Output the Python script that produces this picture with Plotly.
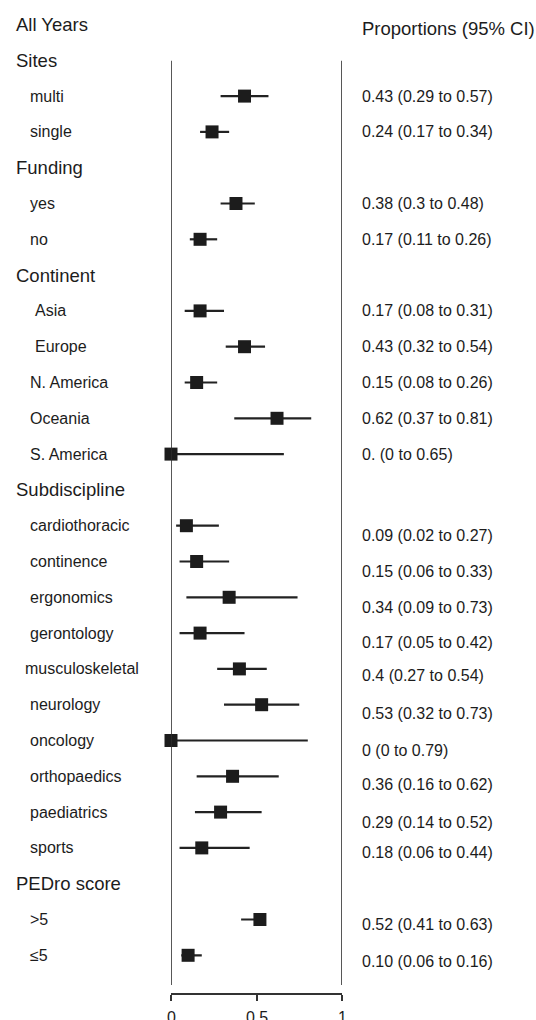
import plotly.graph_objects as go

# ---------------- data ----------------
row_labels = ["All Years", "Sites", "multi", "single", "Funding", "yes", "no",
              "Continent", "Asia", "Europe", "N. America", "Oceania", "S. America",
              "Subdiscipline", "cardiothoracic", "continence", "ergonomics",
              "gerontology", "musculoskeletal", "neurology", "oncology",
              "orthopaedics", "paediatrics", "sports", "PEDro score", ">5", "≤5"]
row_kind = ["title", "header", "item", "item", "header", "item", "item",
            "header", "item", "item", "item", "item", "item",
            "header", "item", "item", "item", "item", "item", "item", "item",
            "item", "item", "item", "header", "item", "item"]
estimate = [None, None, 0.43, 0.24, None, 0.38, 0.17,
            None, 0.17, 0.43, 0.15, 0.62, 0.0,
            None, 0.09, 0.15, 0.34, 0.17, 0.40, 0.53, 0.0,
            0.36, 0.29, 0.18, None, 0.52, 0.10]
ci_lower = [None, None, 0.29, 0.17, None, 0.29, 0.11,
            None, 0.08, 0.32, 0.08, 0.37, 0.0,
            None, 0.03, 0.05, 0.09, 0.05, 0.27, 0.31, 0.0,
            0.15, 0.14, 0.05, None, 0.41, 0.06]
ci_upper = [None, None, 0.57, 0.34, None, 0.49, 0.27,
            None, 0.31, 0.55, 0.27, 0.82, 0.66,
            None, 0.28, 0.34, 0.74, 0.43, 0.56, 0.75, 0.80,
            0.63, 0.53, 0.46, None, 0.55, 0.18]
ci_text = ["", "", "0.43 (0.29 to 0.57)", "0.24 (0.17 to 0.34)", "",
           "0.38 (0.3 to 0.48)", "0.17 (0.11 to 0.26)", "",
           "0.17 (0.08 to 0.31)", "0.43 (0.32 to 0.54)", "0.15 (0.08 to 0.26)",
           "0.62 (0.37 to 0.81)", "0. (0 to 0.65)", "",
           "0.09 (0.02 to 0.27)", "0.15 (0.06 to 0.33)", "0.34 (0.09 to 0.73)",
           "0.17 (0.05 to 0.42)", "0.4 (0.27 to 0.54)", "0.53 (0.32 to 0.73)",
           "0 (0 to 0.79)", "0.36 (0.16 to 0.62)", "0.29 (0.14 to 0.52)",
           "0.18 (0.06 to 0.44)", "", "0.52 (0.41 to 0.63)", "0.10 (0.06 to 0.16)"]
ci_header = "Proportions (95% CI)"
x_ticks = [0, 0.5, 1]
x_tick_labels = ["0", "0.5", "1"]

# ---------------- styling ----------------
label_x_px = [13.5, 13.5, 27.5, 27.5, 13.5, 27.5, 27.5,
              13.5, 32.5, 32.5, 27.5, 27.5, 27.5,
              13.5, 27.5, 27.5, 27.5, 27.5, 22.5, 27.5, 27.5,
              27.5, 27.5, 27.5, 13.5, 27.5, 27.5]
value_shift_px = [0, 0, 0, 0, 0, 0, 0,
                  0, 0, 0, 0, 0, 0,
                  0, 9.5, 9.5, 10, 9, 7, 9, 9.5,
                  8, 10, 5, 0, 5, 6]

W, H = 536, 1020
X0_PX, X1_PX = 171, 342
ROW0_PX, ROW_STEP = 24.5, 35.8
AXIS_PX = 993.3
TICKLABEL_PX = 1017
VLINE_TOP_PX, VLINE_BOT_PX = 60.7, 985
VALUE_X_PX = 360
FONT = "Liberation Sans, Arial, Helvetica, sans-serif"
INK = "#1c1c1c"

rows = list(range(len(row_labels)))
items = [i for i, k in enumerate(row_kind) if k == "item"]

fig = go.Figure()
fig.add_trace(go.Scatter(
    x=[estimate[i] for i in items],
    y=[rows[i] for i in items],
    mode="markers",
    marker=dict(symbol="square", size=13, color=INK, line=dict(width=0)),
    error_x=dict(type="data", symmetric=False,
                 array=[ci_upper[i] - estimate[i] for i in items],
                 arrayminus=[estimate[i] - ci_lower[i] for i in items],
                 thickness=2.2, width=0, color="#222222"),
    cliponaxis=False, showlegend=False, hoverinfo="skip"))

def row_of_px(px):
    return (px - ROW0_PX) / ROW_STEP

shapes = []
for xv in (x_ticks[0], x_ticks[-1]):
    shapes.append(dict(type="line", xref="x", yref="y", x0=xv, x1=xv,
                       y0=row_of_px(VLINE_TOP_PX), y1=row_of_px(VLINE_BOT_PX),
                       line=dict(color="#2e2e2e", width=1.6)))

annotations = []
for i, lab in enumerate(row_labels):
    big = row_kind[i] in ("title", "header")
    annotations.append(dict(
        text=lab, xref="paper", yref="y", x=label_x_px[i] / W, y=rows[i],
        xanchor="left", yanchor="middle", showarrow=False,
        font=dict(family=FONT, size=18.5 if big else 16, color=INK)))
    if ci_text[i]:
        annotations.append(dict(
            text=ci_text[i], xref="paper", yref="y", x=VALUE_X_PX / W, y=rows[i],
            yshift=-value_shift_px[i], xanchor="left", yanchor="middle",
            showarrow=False, font=dict(family=FONT, size=16, color=INK)))
annotations.append(dict(
    text=ci_header, xref="paper", yref="y", x=VALUE_X_PX / W, y=rows[0],
    yshift=-4, xanchor="left", yanchor="middle", showarrow=False,
    font=dict(family=FONT, size=18.5, color=INK)))
# x-axis tick labels (placed on the axis scale, just below the axis line)
for tv, tl in zip(x_ticks, x_tick_labels):
    annotations.append(dict(
        text=tl, xref="x", yref="paper", x=tv, y=(H - TICKLABEL_PX) / H,
        xanchor="center", yanchor="middle", showarrow=False,
        font=dict(family=FONT, size=16, color=INK)))

fig.update_layout(
    width=W, height=H,
    margin=dict(l=0, r=0, t=0, b=0),
    paper_bgcolor="white", plot_bgcolor="white",
    showlegend=False,
    shapes=shapes, annotations=annotations,
    xaxis=dict(domain=[X0_PX / W, X1_PX / W], range=[0, 1],
               showgrid=False, zeroline=False,
               showline=True, linecolor="#333333", linewidth=1.5,
               ticks="outside", ticklen=6, tickwidth=1.5, tickcolor="#333333",
               tickvals=x_ticks, showticklabels=False, fixedrange=True),
    yaxis=dict(domain=[(H - AXIS_PX) / H, 1],
               range=[row_of_px(AXIS_PX), row_of_px(0)],
               visible=False, fixedrange=True),
)

fig.write_html("out.html",
               config={"displayModeBar": False},
               post_script="document.body.style.margin='0';"
                           "document.body.style.overflow='hidden';")
